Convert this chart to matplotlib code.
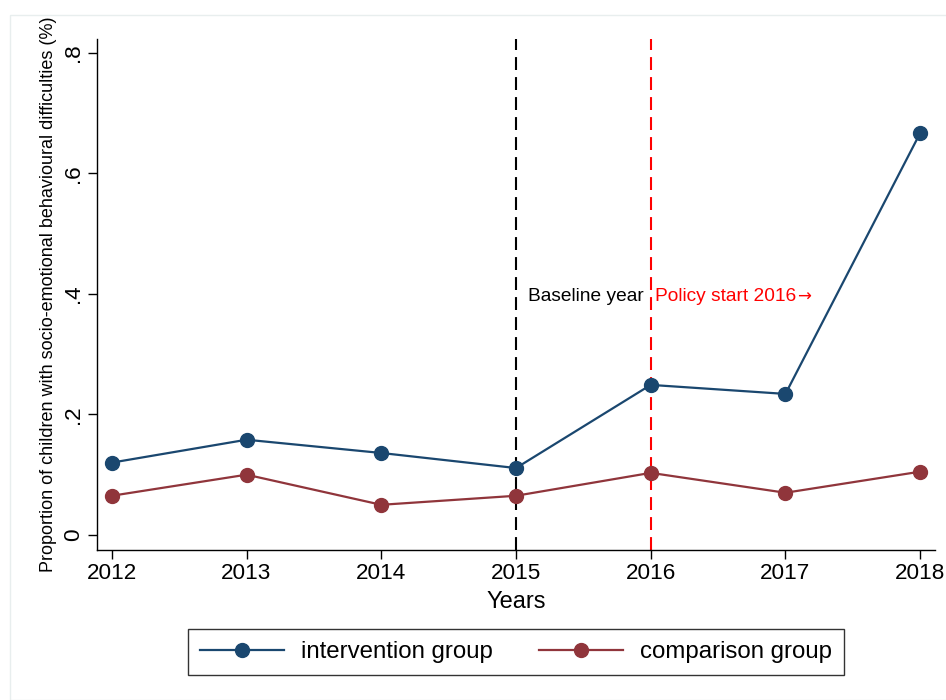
import numpy as np
import matplotlib
matplotlib.use("Agg")
import matplotlib.pyplot as plt
from matplotlib.patches import Rectangle

years = [2012, 2013, 2014, 2015, 2016, 2017, 2018]
intervention = [0.120, 0.158, 0.136, 0.111, 0.249, 0.234, 0.667]
comparison = [0.065, 0.100, 0.050, 0.065, 0.103, 0.070, 0.105]
yticks = [0, 0.2, 0.4, 0.6, 0.8]
ytick_labels = ["0", ".2", ".4", ".6", ".8"]

navy = "#1a476f"
maroon = "#90353b"

plt.rcParams['font.family'] = ['Liberation Sans', 'DejaVu Sans']

fig = plt.figure(figsize=(9.46, 7.0), dpi=100)
fig.patches.append(Rectangle((10/946, 0), 1, 1 - 15/700, transform=fig.transFigure,
                             fill=False, edgecolor="#e8eeee", linewidth=1.0, zorder=0))
ax = fig.add_axes([97/946, 1 - 550/700, (935 - 97)/946, (550 - 39)/700])

ax.plot(years, intervention, color=navy, lw=1.6, marker='o', ms=10,
        label="intervention group", zorder=3)
ax.plot(years, comparison, color=maroon, lw=1.6, marker='o', ms=10,
        label="comparison group", zorder=3)

ax.axvline(2015, color="black", lw=1.5, dashes=(6.2, 3.4), zorder=2)
ax.axvline(2016, color="red", lw=1.5, dashes=(6.2, 3.4), zorder=2)
ax.text(2015.09, 0.395, "Baseline year", color="black", fontsize=13.8, va='center', ha='left')
t = ax.text(2016.03, 0.395, "Policy start 2016", color="red", fontsize=13.8, va='center', ha='left')
ax.annotate("\u2192", xycoords=t, xy=(1, 0.5), xytext=(1, 0), textcoords='offset points',
            color="red", fontsize=12, va='center', ha='left', family='DejaVu Sans')

ax.set_xlim(2011.89, 2018.11)
ax.set_ylim(-0.025, 0.823)
ax.set_xticks(years)
ax.set_xticklabels([str(y) for y in years])
ax.set_yticks(yticks)
ax.set_yticklabels(ytick_labels, rotation=90, va='center')

ax.tick_params(axis='both', direction='out', length=6.5, width=1.0, labelsize=16.2, pad=3)
for s in ['top', 'right']:
    ax.spines[s].set_visible(False)
for s in ['left', 'bottom']:
    ax.spines[s].set_linewidth(1.0)

ax.set_xlabel("Years", fontsize=17, labelpad=5)
ax.set_ylabel("Proportion of children with socio-emotional behavioural difficulties (%)",
              fontsize=13, labelpad=4)

leg = fig.legend(loc='center', bbox_to_anchor=(516/946, 1 - 652/700), ncol=2,
                 fontsize=17.3, frameon=True, fancybox=False, edgecolor="black",
                 handlelength=3.5, columnspacing=1.9, handletextpad=0.7,
                 borderpad=0.5, borderaxespad=0)
leg.get_frame().set_linewidth(1.0)

fig.savefig("out.png", dpi=100, facecolor="white")
